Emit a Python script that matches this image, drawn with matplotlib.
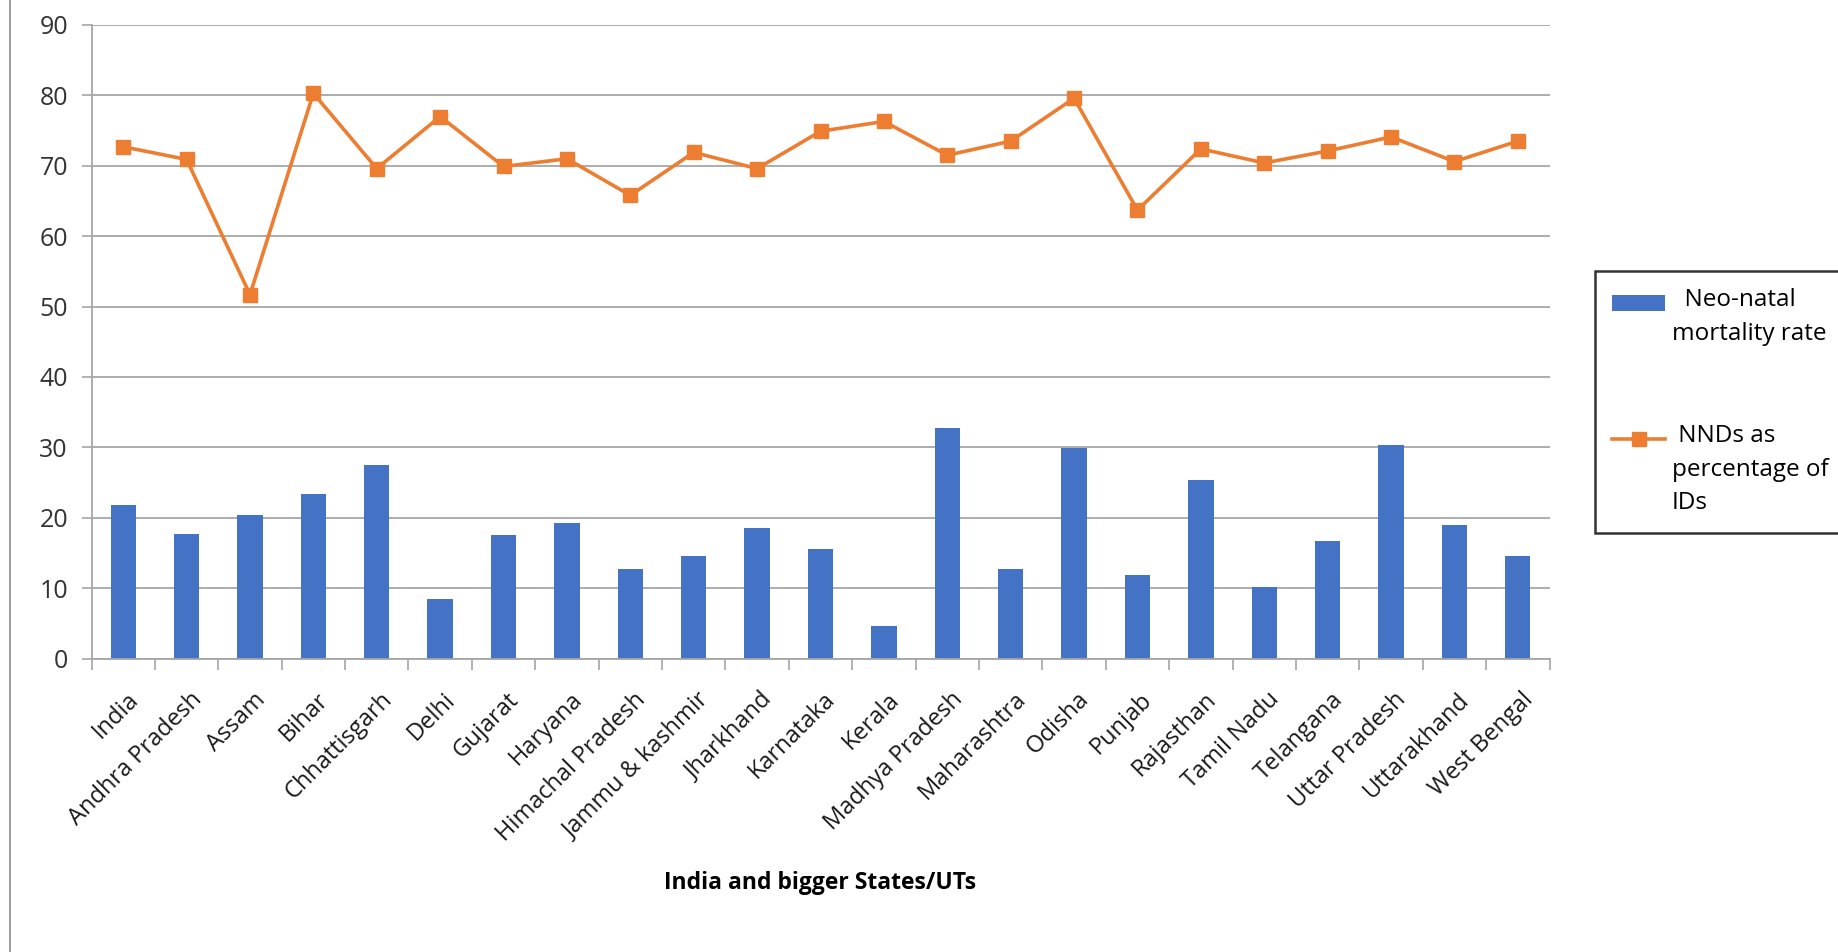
import numpy as np
import matplotlib
matplotlib.use("Agg")
import matplotlib.pyplot as plt
from matplotlib.lines import Line2D
from matplotlib.patches import Rectangle
from matplotlib.transforms import ScaledTranslation
from matplotlib.legend_handler import HandlerPatch, HandlerLine2D

plt.rcParams['font.family'] = ['Open Sans', 'DejaVu Sans']

# Data
states = ['India', 'Andhra Pradesh', 'Assam', 'Bihar', 'Chhattisgarh', 'Delhi',
          'Gujarat', 'Haryana', 'Himachal Pradesh', 'Jammu & kashmir', 'Jharkhand',
          'Karnataka', 'Kerala', 'Madhya Pradesh', 'Maharashtra', 'Odisha', 'Punjab',
          'Rajasthan', 'Tamil Nadu', 'Telangana', 'Uttar Pradesh', 'Uttarakhand',
          'West Bengal']
nmr = [21.8, 17.7, 20.4, 23.4, 27.5, 8.4, 17.5, 19.2, 12.7, 14.5, 18.5,
       15.5, 4.6, 32.8, 12.7, 29.9, 11.9, 25.4, 10.1, 16.7, 30.3, 19.0, 14.5]
nnd_pct = [72.7, 70.9, 51.7, 80.3, 69.6, 77.0, 69.9, 71.0, 65.8, 71.9, 69.6,
           74.9, 76.3, 71.5, 73.5, 79.6, 63.7, 72.4, 70.4, 72.1, 74.1, 70.6, 73.5]
yticks = [0, 10, 20, 30, 40, 50, 60, 70, 80, 90]

W, H = 1838, 952
fig = plt.figure(figsize=(W / 100, H / 100), dpi=100)
ax = fig.add_axes([91.5 / W, 1 - 658.5 / H, (1549.5 - 91.5) / W, (658.5 - 25) / H])

x = np.arange(len(states))
bars = ax.bar(x, nmr, width=0.4, color='#4472C4', zorder=2,
              label='  Neo-natal\nmortality rate')
line, = ax.plot(x, nnd_pct, color='#ED7D31', lw=2.6, marker='s', markersize=9.5,
                zorder=3, label=' NNDs as\npercentage of\nIDs')

ax.set_xlim(-0.5, len(states) - 0.5)
ax.set_ylim(0, 90)
ax.set_yticks(yticks)
ax.yaxis.grid(True, color='#a6a6a6', lw=1.3, zorder=0)
ax.set_axisbelow(True)

ax.set_xticks(x)
ax.set_xticklabels(states, rotation=45, ha='right', va='top', rotation_mode='anchor',
                   fontsize=17, color='#1a1a1a')
ax.set_xticks(np.arange(-0.5, len(states)), minor=True)
ax.tick_params(axis='x', which='major', length=0, pad=21)
ax.tick_params(axis='x', which='minor', length=8, color='#a6a6a6', width=1.2)
ax.tick_params(axis='y', length=7, color='#a6a6a6', width=1.2, labelsize=18,
               labelcolor='#333333', pad=10)

# small nudge to the right for the slanted category labels
shift = ScaledTranslation(0.03, 0, fig.dpi_scale_trans)
for lab in ax.get_xticklabels():
    lab.set_transform(lab.get_transform() + shift)

for side in ['top', 'right']:
    ax.spines[side].set_visible(False)
for side in ['left', 'bottom']:
    ax.spines[side].set_color('#a6a6a6')
    ax.spines[side].set_linewidth(1.3)

ax.set_xlabel('India and bigger States/UTs', fontsize=16.5, fontweight='bold',
              labelpad=18)


# legend handles sit on the first line of each label (Excel style)
def bar_key(legend, orig_handle, xdescent, ydescent, width, height, fontsize):
    top = height - ydescent
    return Rectangle((-xdescent, top - 0.62 * fontsize - 0.33 * fontsize),
                     width, 0.66 * fontsize)


def from_first_bar(tgt, src):
    tgt.update_from(src.patches[0])


class TopLine(HandlerLine2D):
    def create_artists(self, legend, orig_handle, xdescent, ydescent, width, height,
                       fontsize, trans):
        artists = super().create_artists(legend, orig_handle, xdescent, ydescent,
                                         width, height, fontsize, trans)
        y = height - ydescent - 0.62 * fontsize
        for a in artists:
            a.set_ydata(np.full_like(np.asarray(a.get_xdata(), float), y))
        return artists


leg = ax.legend(handles=[bars, line], loc='upper left',
                bbox_to_anchor=(1595 / W, 1 - 271 / H), bbox_transform=fig.transFigure,
                fontsize=17.5, frameon=True, fancybox=False, labelspacing=3.2,
                handlelength=2.2, handleheight=1.4, borderpad=0.7, handletextpad=0.25,
                borderaxespad=0,
                handler_map={bars: HandlerPatch(patch_func=bar_key,
                                                update_func=from_first_bar),
                             line: TopLine()})
leg.get_frame().set_edgecolor('black')
leg.get_frame().set_linewidth(1.8)
for t in leg.get_texts():
    t.set_linespacing(1.55)
for col in leg._legend_handle_box.get_children():
    for item in col.get_children():
        item.align = 'top'

# left border of the chart area
fig.add_artist(Line2D([9.5 / W, 9.5 / W], [0, 1], color='#8c8c8c', lw=1.2))

fig.savefig('out.png', dpi=100)
